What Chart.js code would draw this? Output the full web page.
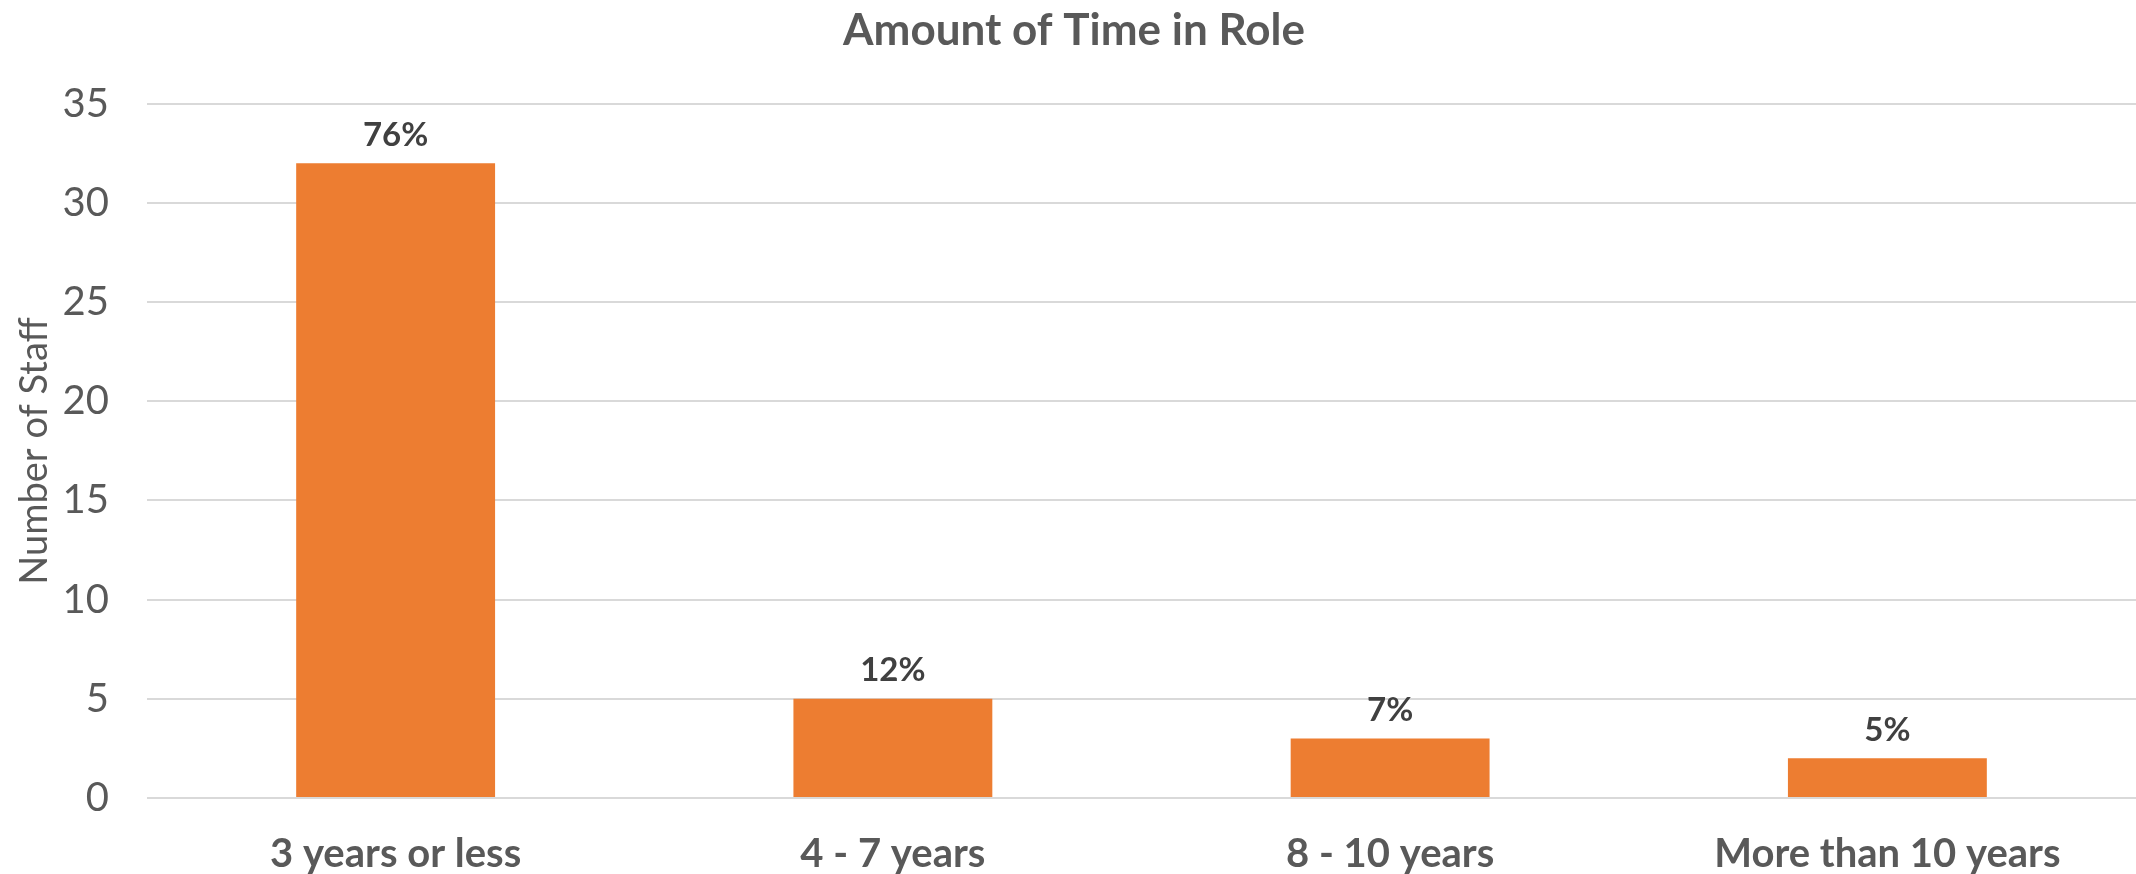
<!DOCTYPE html>
<html>
<head>
<meta charset="utf-8">
<title>Amount of Time in Role</title>
<script src="https://cdn.jsdelivr.net/npm/chart.js@4/dist/chart.umd.min.js"></script>
<style>
  html, body { margin: 0; padding: 0; background: #fff; }
  #wrap { width: 2136px; height: 874px; }
</style>
</head>
<body>
<div id="wrap"><canvas id="timeInRole"></canvas></div>
<script>
const categories = ['3 years or less', '4 - 7 years', '8 - 10 years', 'More than 10 years'];
const staffCounts = [32, 5, 3, 2];
const shareLabels = ['76%', '12%', '7%', '5%'];
const yTicks = [0, 5, 10, 15, 20, 25, 30, 35];

const FONT = 'Lato, "Open Sans", sans-serif';
const GREY = '#595959';

// writes the share text above each bar
const barLabels = {
    id: 'barLabels',
    afterDatasetsDraw(chart) {
        const c = chart.ctx;
        const meta = chart.getDatasetMeta(0);
        c.save();
        c.font = 'bold 33px ' + FONT;
        c.fillStyle = '#404040';
        c.textAlign = 'center';
        c.textBaseline = 'middle';
        meta.data.forEach((bar, i) => {
            c.fillText(shareLabels[i], bar.x, bar.y - 28);
        });
        c.restore();
    }
};

const chart = new Chart(document.getElementById('timeInRole').getContext('2d'), {
    type: 'bar',
    data: {
        labels: categories,
        datasets: [{
            label: 'Number of Staff',
            data: staffCounts,
            backgroundColor: '#ED7D31',
            borderWidth: 0,
            barPercentage: 0.4,
            categoryPercentage: 1.0
        }]
    },
    options: {
        responsive: true,
        maintainAspectRatio: false,
        animation: false,
        layout: { padding: { left: 12, right: 0, top: 0, bottom: 0 } },
        plugins: {
            legend: { display: false },
            tooltip: { enabled: false },
            title: {
                display: true,
                text: 'Amount of Time in Role',
                color: GREY,
                font: { family: FONT, size: 44, weight: 'bold' },
                padding: { top: 4, bottom: 47 }
            }
        },
        scales: {
            x: {
                grid: { display: false },
                border: { display: false },
                ticks: {
                    color: GREY,
                    font: { family: FONT, size: 40, weight: 'bold' },
                    padding: 24
                },
                afterFit(scale) { scale.height = 76; }
            },
            y: {
                min: 0,
                max: 35,
                afterBuildTicks(scale) {
                    scale.ticks = yTicks.map(v => ({ value: v }));
                },
                grid: { color: '#D9D9D9', lineWidth: 2, drawTicks: false },
                border: { display: false },
                ticks: {
                    color: GREY,
                    font: { family: FONT, size: 40 },
                    padding: 38
                },
                title: {
                    display: true,
                    text: 'Number of Staff',
                    color: GREY,
                    font: { family: FONT, size: 38 },
                    padding: { top: 0, bottom: 0 }
                },
                afterFit(scale) { scale.width = 135; }
            }
        }
    },
    plugins: [barLabels]
});
</script>
</body>
</html>
